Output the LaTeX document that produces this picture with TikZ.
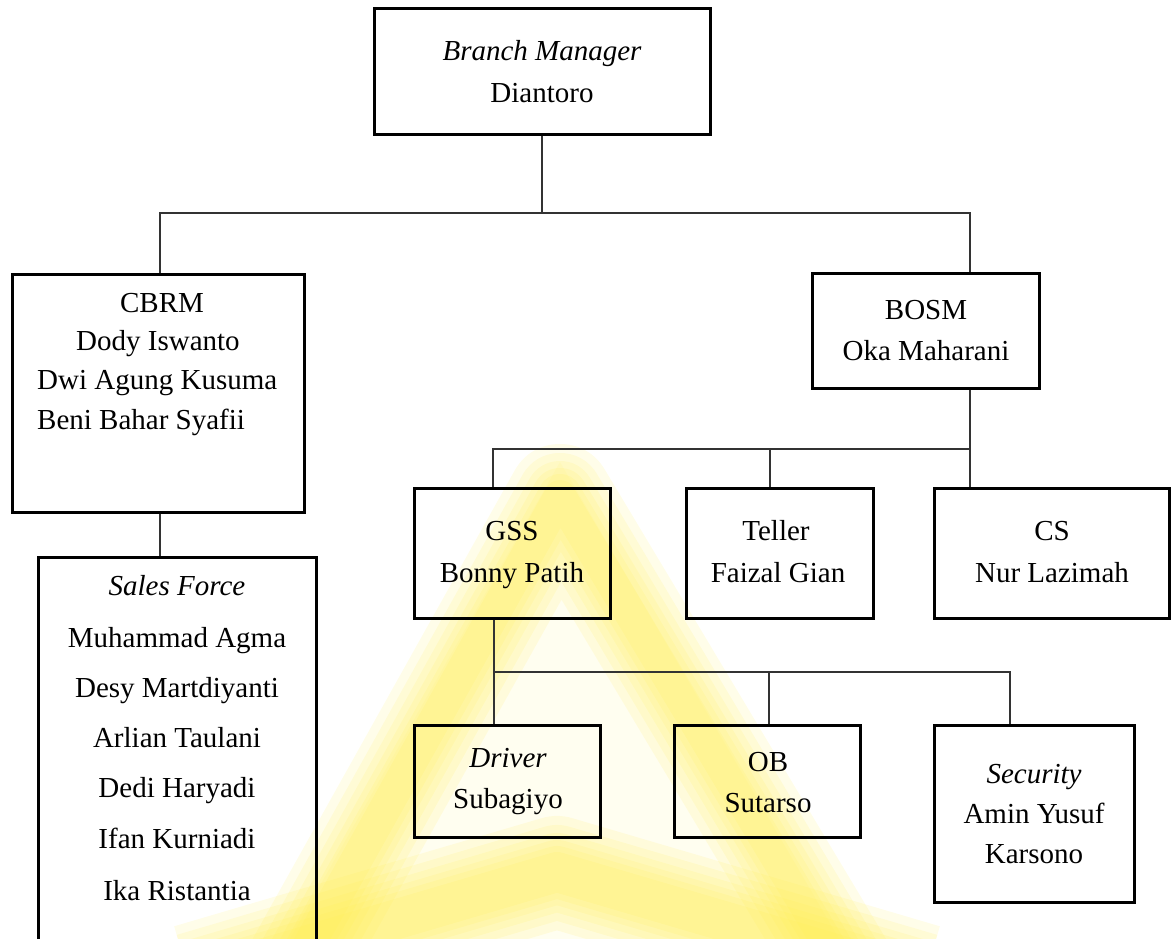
\documentclass[tikz,border=0pt]{standalone}
\usepackage{fontspec}
\setmainfont{Liberation Serif}
\definecolor{wmyellow}{RGB}{255,236,70}
% a box given by its left, top, right and bottom edges
\newcommand{\orgbox}[5]{\node[box, minimum width={#4-#2}, minimum height={#5-#3}] (#1) at ({(#2+#4)/2},{(#3+#5)/2}) {};}
\begin{document}
\begin{tikzpicture}[x=1pt,y=-1pt,
  box/.style={draw=black, line width=3pt, inner sep=0pt},
  conn/.style={draw=black!80, line width=1.4pt},
  txt/.style={anchor=base, inner sep=0pt, font=\fontsize{29}{34}\selectfont},
  txtl/.style={txt, anchor=base west},
  wm/.style={draw=wmyellow, draw opacity=0.12, line join=round, line cap=butt}]
\useasboundingbox (0,0) rectangle (1171,938);

% faint logo in the background
\begin{scope}
  \clip (0,0) rectangle (1171,938);
  \fill[wmyellow, opacity=0.08] (255,1000) -- (560,462) -- (875,1000) -- cycle;
  \foreach \w in {104,86,70,56,44,32} {
    \draw[wm, line width=\w] (278,1000) -- (560,496) -- (862,1000);
    \draw[wm, line width={\w+8}] (190,980) -- (557,872) -- (924,980);
  }
\end{scope}

% boxes
\orgbox{bm}{374}{8}{710}{134}
\orgbox{cbrm}{12}{274}{304}{512}
\orgbox{bosm}{812}{273}{1039}{388}
\orgbox{sales}{38}{557}{316}{990}
\orgbox{gss}{414}{488}{610}{618}
\orgbox{teller}{686}{488}{873}{618}
\orgbox{cs}{934}{488}{1169}{618}
\orgbox{driver}{414}{725}{600}{837}
\orgbox{ob}{674}{725}{860}{837}
\orgbox{sec}{934}{725}{1134}{902}

% texts
\node[txt] (bm1) at (542,60) {\itshape Branch Manager};
\node[txt] (bm2) at (542,102) {Diantoro};
\node[txt] (cb1) at (162,312) {CBRM};
\node[txt] (cb2) at (158,350) {Dody Iswanto};
\node[txtl] (cb3) at (37,389) {Dwi Agung Kusuma};
\node[txtl] (cb4) at (37,429) {Beni Bahar Syafii};
\node[txt] (sf0) at (177,595) {\itshape Sales Force};
\node[txt] (sf1) at (177,647) {Muhammad Agma};
\node[txt] (sf2) at (177,697) {Desy Martdiyanti};
\node[txt] (sf3) at (177,747) {Arlian Taulani};
\node[txt] (sf4) at (177,797) {Dedi Haryadi};
\node[txt] (sf5) at (177,848) {Ifan Kurniadi};
\node[txt] (sf6) at (177,900) {Ika Ristantia};
\node[txt] (bo1) at (926,319) {BOSM};
\node[txt] (bo2) at (926,360) {Oka Maharani};
\node[txt] (gs1) at (512,540) {GSS};
\node[txt] (gs2) at (512,582) {Bonny Patih};
\node[txt] (te1) at (776,540) {Teller};
\node[txt] (te2) at (778,582) {Faizal Gian};
\node[txt] (cs1) at (1052,540) {CS};
\node[txt] (cs2) at (1052,582) {Nur Lazimah};
\node[txt] (dr1) at (508,767) {\itshape Driver};
\node[txt] (dr2) at (508,808) {Subagiyo};
\node[txt] (ob1) at (768,771) {OB};
\node[txt] (ob2) at (768,812) {Sutarso};
\node[txt] (se1) at (1034,783) {\itshape Security};
\node[txt] (se2) at (1034,823) {Amin Yusuf};
\node[txt] (se3) at (1034,863) {Karsono};

% junction points of the connector buses
\coordinate (tbL) at (160,213);
\coordinate (tbR) at (970,213);
\coordinate (mbL) at (493,449);
\coordinate (mbM) at (770,449);
\coordinate (mbR) at (970,449);
\coordinate (lbL) at (494,672);
\coordinate (lbM) at (769,672);
\coordinate (lbR) at (1010,672);

% connectors
\draw[conn] (bm.south) -- (bm.south |- tbL);
\draw[conn] (tbL |- cbrm.north) -- (tbL) -- (tbR) -- (tbR |- bosm.north);
\draw[conn] (tbL |- cbrm.south) -- (tbL |- sales.north);
\draw[conn] (tbR |- bosm.south) -- (mbR);
\draw[conn] (mbL |- gss.north) -- (mbL) -- (mbR) -- (mbR |- cs.north);
\draw[conn] (mbM) -- (mbM |- teller.north);
\draw[conn] (lbL |- gss.south) -- (lbL |- driver.north);
\draw[conn] (lbL) -- (lbR) -- (lbR |- sec.north);
\draw[conn] (lbM) -- (lbM |- ob.north);
\end{tikzpicture}
\end{document}
